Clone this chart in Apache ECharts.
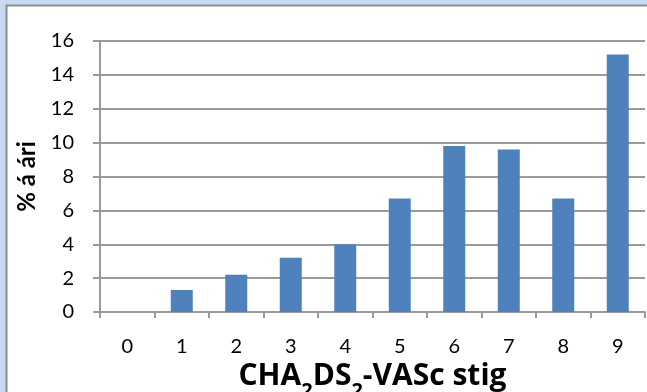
<!DOCTYPE html>
<html><head><meta charset="utf-8">
<script src="https://cdn.jsdelivr.net/npm/echarts@6/dist/echarts.min.js"></script>
<style>html,body{margin:0;padding:0;background:#c6d9f1}#c{width:647px;height:392px}</style>
</head><body><div id="c"></div>
<script>
const categories = ['0','1','2','3','4','5','6','7','8','9'];
const values = [0, 1.3, 2.2, 3.2, 4.0, 6.7, 9.8, 9.6, 6.7, 15.2];
const yTicks = [0, 2, 4, 6, 8, 10, 12, 14, 16];
const yTitle = '% á ári';

const FONT = 'Lato';
const TFONT = 'Open Sans';
const chart = echarts.init(document.getElementById('c'), null, {renderer:'canvas'});
chart.setOption({
  backgroundColor: '#c6d9f1',
  animation: false,
  graphic: [{
    type: 'rect', z: -100, silent: true,
    shape: {x: 6.5, y: 5.5, width: 700, height: 500},
    style: {fill: '#ffffff', stroke: '#8c8c8c', lineWidth: 2}
  }],
  grid: {left: 100, right: 2, top: 41, bottom: 80, containLabel: false, outerBoundsMode: 'none'},
  xAxis: {
    type: 'category', data: categories, boundaryGap: true,
    axisLine: {lineStyle: {color: '#9a9a9a', width: 2}},
    axisTick: {show: true, length: 6, inside: false, lineStyle: {color: '#9a9a9a', width: 2}},
    axisLabel: {color: '#000', fontFamily: FONT, fontSize: 20, margin: 25},
    name: '{a|CHA}{s|2}{a|DS}{s|2}{a|-VASc stig}',
    nameLocation: 'middle', nameGap: 37,
    nameTextStyle: {
      rich: {
        a: {fontFamily: TFONT, fontSize: 30, fontWeight: 'bold', color: '#000', verticalAlign: 'bottom', padding: [0,0,9,0]},
        s: {fontFamily: TFONT, fontSize: 20, fontWeight: 'bold', color: '#000', verticalAlign: 'bottom', padding: [0,0,0,0]}
      }
    }
  },
  yAxis: {
    type: 'value', min: 0, max: 16, interval: 2,
    axisLine: {show: true, lineStyle: {color: '#9a9a9a', width: 2}},
    axisTick: {show: true, length: 7, lineStyle: {color: '#9a9a9a', width: 2}},
    splitLine: {show: true, lineStyle: {color: '#9a9a9a', width: 2}},
    axisLabel: {color: '#000', fontFamily: FONT, fontSize: 20, margin: 26,
      formatter: v => yTicks.includes(v) ? String(v) : ''},
    name: yTitle, nameLocation: 'middle', nameGap: 61, nameRotate: 90,
    nameTextStyle: {fontFamily: FONT, fontSize: 24, fontWeight: 'bold', color: '#000'}
  },
  series: [{
    type: 'bar', data: values, barWidth: 22,
    itemStyle: {color: '#4f81bd'}
  }]
});
</script></body></html>
